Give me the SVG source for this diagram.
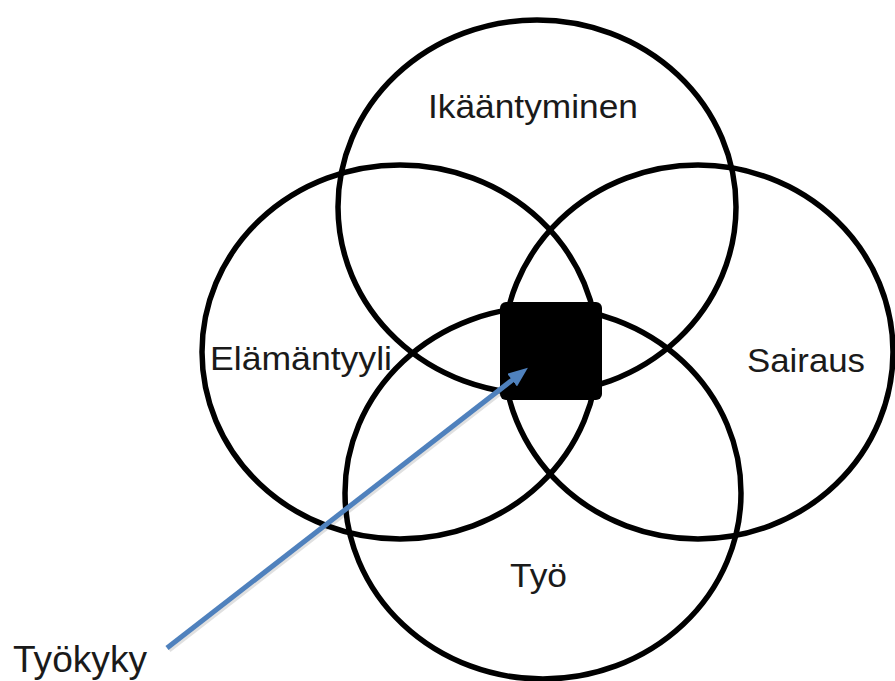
<svg xmlns="http://www.w3.org/2000/svg" width="895" height="681" viewBox="0 0 895 681">
<style>
.c{fill:none;stroke:#000;stroke-width:5.5}
.t{font-family:"Liberation Sans",Arial,sans-serif;fill:#1a1a1a;font-size:33px}
</style>
<defs>
<marker id="ah" markerWidth="4" markerHeight="3.2" refX="2" refY="1.6" orient="auto" markerUnits="strokeWidth">
<path d="M0,0 L4,1.6 L0,3.2 Z" fill="#4f81bd"/>
</marker>
</defs>
<rect width="895" height="681" fill="#fff"/>
<g id="ikaantyminen"><ellipse class="c" cx="537" cy="207" rx="199" ry="187"/><text class="t" x="428" y="118" textLength="210" lengthAdjust="spacingAndGlyphs">Ikääntyminen</text></g>
<g id="elamantyyli"><ellipse class="c" cx="400" cy="352" rx="198" ry="187"/><text class="t" x="210" y="370" textLength="182" lengthAdjust="spacingAndGlyphs">Elämäntyyli</text></g>
<g id="sairaus"><ellipse class="c" cx="698" cy="352" rx="195" ry="187"/><text class="t" x="747" y="372" textLength="118" lengthAdjust="spacingAndGlyphs">Sairaus</text></g>
<g id="tyo"><ellipse class="c" cx="543" cy="493" rx="198" ry="186"/><text class="t" x="510" y="587" textLength="57" lengthAdjust="spacingAndGlyphs">Työ</text></g>
<g id="center"><rect x="500" y="302" width="102" height="98" rx="6" fill="#000"/></g>
<g id="connectors">
<line x1="169" y1="650" x2="522" y2="376" stroke="#000" stroke-opacity="0.12" stroke-width="5"/>
<line x1="167" y1="648" x2="520" y2="374" stroke="#4f81bd" stroke-width="5" marker-end="url(#ah)"/>
</g>
<g id="tyokyky"><text class="t" x="13" y="672" style="font-size:37px" textLength="134" lengthAdjust="spacingAndGlyphs">Työkyky</text></g>
</svg>
